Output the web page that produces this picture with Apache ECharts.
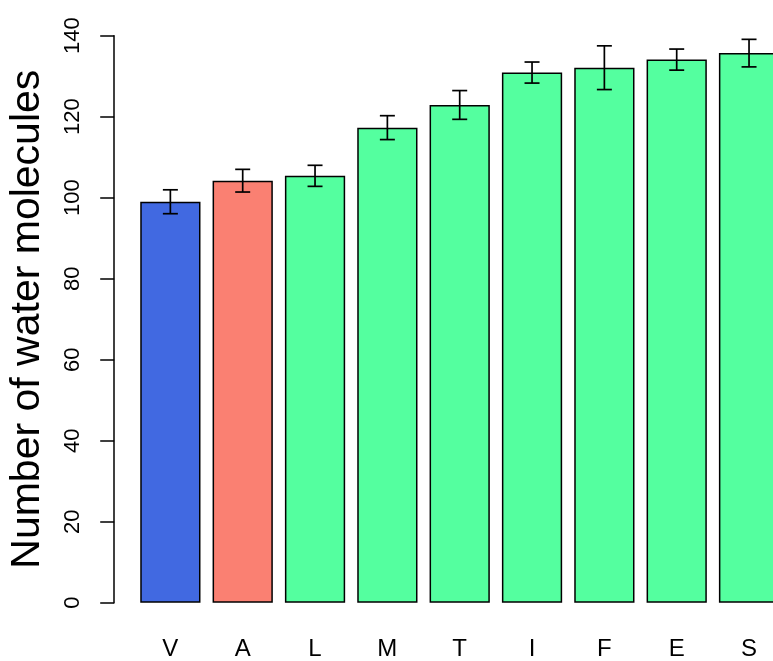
<!DOCTYPE html>
<html><head><meta charset="utf-8">
<script src="https://cdn.jsdelivr.net/npm/echarts@6/dist/echarts.min.js"></script>
<style>html,body{margin:0;padding:0;background:#fff}#c{width:773px;height:661px}</style>
</head><body><div id="c"></div>
<script>
const categories = ['V','A','L','M','T','I','F','E','S'];
const values = [99.0, 104.2, 105.4, 117.3, 122.9, 130.9, 132.1, 134.1, 135.7];
const errors = [2.95, 2.8, 2.6, 2.95, 3.55, 2.6, 5.4, 2.6, 3.4];
const barColors = ['#4169E1', '#FA8072', '#54FF9F', '#54FF9F', '#54FF9F', '#54FF9F', '#54FF9F', '#54FF9F', '#54FF9F'];
const yTicks = [0, 20, 40, 60, 80, 100, 120, 140];

const chart = echarts.init(document.getElementById('c'), null, {renderer: 'canvas'});
const font = 'Liberation Sans, Arial, sans-serif';
chart.setOption({
  animation: false,
  grid: {left: 134.2, width: 651, top: 35.7, bottom: 58.3, containLabel: false, outerBoundsMode: 'none'},
  xAxis: {
    type: 'category', data: categories,
    axisLine: {show: false}, axisTick: {show: false},
    axisLabel: {fontSize: 24, color: '#000', fontFamily: font, margin: 35}
  },
  yAxis: {
    type: 'value', min: yTicks[0], max: yTicks[yTicks.length - 1], interval: 20,
    offset: 20,
    name: 'Number of water molecules', nameLocation: 'middle', nameGap: 66,
    nameTextStyle: {fontSize: 41, color: '#000', fontFamily: font},
    axisLine: {show: true, lineStyle: {color: '#000', width: 1.5}},
    axisTick: {show: true, length: 14, lineStyle: {color: '#000', width: 1.5}},
    axisLabel: {rotate: 90, fontSize: 22, color: '#000', fontFamily: font, margin: 30},
    splitLine: {show: false}
  },
  series: [
    {
      type: 'bar', barWidth: '83.3%',
      data: values.map((v, i) => ({value: v, itemStyle: {color: barColors[i]}})),
      itemStyle: {borderColor: '#000', borderWidth: 1.5}
    },
    {
      type: 'custom', clip: false, z: 10,
      data: values.map((v, i) => [i, v - errors[i], v + errors[i]]),
      renderItem: function (params, api) {
        const lo = api.coord([api.value(0), api.value(1)]);
        const hi = api.coord([api.value(0), api.value(2)]);
        const hw = 7.5;
        const st = {stroke: '#000', lineWidth: 1.7};
        return {type: 'group', children: [
          {type: 'line', shape: {x1: lo[0], y1: lo[1], x2: hi[0], y2: hi[1]}, style: st},
          {type: 'line', shape: {x1: lo[0] - hw, y1: lo[1], x2: lo[0] + hw, y2: lo[1]}, style: st},
          {type: 'line', shape: {x1: hi[0] - hw, y1: hi[1], x2: hi[0] + hw, y2: hi[1]}, style: st}
        ]};
      }
    }
  ]
});
</script></body></html>
